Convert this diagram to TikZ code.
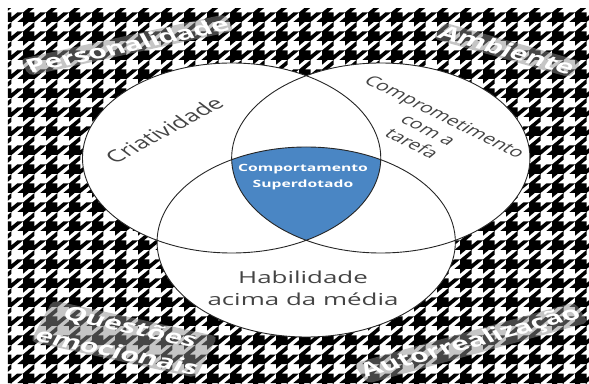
\documentclass[tikz,border=0pt]{standalone}
\usepackage{fontspec}
\setmainfont{Open Sans}
\usetikzlibrary{positioning}
\definecolor{superblue}{RGB}{74,134,196}
\definecolor{ringtext}{RGB}{68,68,68}
\tikzset{
  ring/.style={draw=black!85,line width=0.9pt},
  ringlabel/.style={text=ringtext,align=center,inner sep=0pt,transform shape},
  factor/.style={text=white,font=\bfseries\fontsize{19}{26}\selectfont,align=center,
    fill=black!45,fill opacity=0.5,text opacity=1,inner sep=1.5pt,rounded corners=5pt,transform shape},
  tooth/.style={fill=black}
}

\begin{document}
\begin{tikzpicture}[x=1pt,y=1pt,xscale=1.57]
  \useasboundingbox (0,0) rectangle (375.16,383);
  \fill[white] (0,0) rectangle (375.16,383);
  \begin{scope}
    \clip (5,0) rectangle (375.16,374);
    \foreach \i in {-1,...,26}
      \foreach \j in {-1,...,20}
        \fill[tooth,shift={(\i*14.65,\j*19)},xscale=1.83,yscale=2.375]
          (0,-2) -- (2,0) -- (4,0) -- (8,4) -- (6,4) -- (4,2) -- (4,4) -- (2,4)
          -- (4,6) -- (4,8) -- (0,4) -- (0,2) -- (-2,0) -- (0,0) -- cycle;
  \end{scope}

  \node[factor,rotate=19] (pers) at (81,338) {Personalidade};
  \node[factor,rotate=-24] (amb) at (323,333) {Ambiente};
  \node[factor,rotate=-19] (emo) at (79,44) {Questões\\emocionais};
  \node[factor,rotate=23.5] (autor) at (300,40) {Autorrealização};

  \coordinate (crt) at (147.5,225);
  \coordinate (cmp) at (242.5,225);
  \coordinate (hab) at (195,141);
  \fill[white] (crt) circle (95) (cmp) circle (95) (hab) circle (95);
  \begin{scope}
    \clip (crt) circle (95);
    \clip (cmp) circle (95);
    \fill[superblue] (hab) circle (95);
  \end{scope}
  \draw[ring] (crt) circle (95) (cmp) circle (95) (hab) circle (95);

  \node[ringlabel,rotate=40,font=\fontsize{16.5}{20}\selectfont] (cri) at (104.5,253) {Criatividade};
  \node[ringlabel,rotate=-38,font=\fontsize{14}{17}\selectfont] (taref) at (273,253) {Comprometimento\\com a\\tarefa};
  \node[ringlabel,font=\fontsize{16.5}{22}\selectfont] (habil) at (193,95) {Habilidade\\acima da média};
  \node[ringlabel,text=white,font=\bfseries\fontsize{10}{16.5}\selectfont] (sup) at (193,206) {Comportamento\\Superdotado};
\end{tikzpicture}
\end{document}
